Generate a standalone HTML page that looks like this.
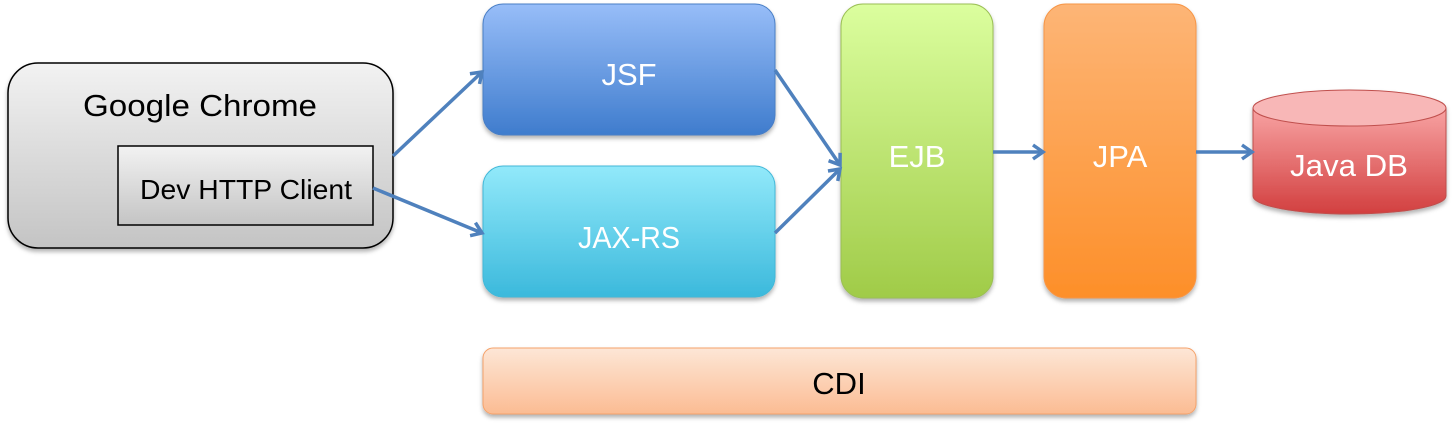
<!DOCTYPE html>
<html><head><meta charset="utf-8"><style>
html,body{margin:0;padding:0;background:#fff;}
svg{display:block;}
text{font-family:"Liberation Sans","DejaVu Sans",sans-serif;}
</style></head><body>
<svg width="1453" height="426" viewBox="0 0 1453 426" xmlns="http://www.w3.org/2000/svg">
<defs>
<linearGradient id="gGray" x1="0" y1="0" x2="0" y2="1"><stop offset="0" stop-color="#f2f2f2"/><stop offset="1" stop-color="#c4c4c4"/></linearGradient>
<linearGradient id="gBlue" x1="0" y1="0" x2="0" y2="1"><stop offset="0" stop-color="#97bdf8"/><stop offset="1" stop-color="#3f7ccd"/></linearGradient>
<linearGradient id="gCyan" x1="0" y1="0" x2="0" y2="1"><stop offset="0" stop-color="#92e9fa"/><stop offset="1" stop-color="#3bb9dc"/></linearGradient>
<linearGradient id="gGreen" x1="0" y1="0" x2="0" y2="1"><stop offset="0" stop-color="#dbfe9e"/><stop offset="1" stop-color="#a0cb48"/></linearGradient>
<linearGradient id="gOrange" x1="0" y1="0" x2="0" y2="1"><stop offset="0" stop-color="#fdb576"/><stop offset="1" stop-color="#fd8f29"/></linearGradient>
<linearGradient id="gRed" x1="0" y1="0" x2="0" y2="1"><stop offset="0" stop-color="#f8a3a3"/><stop offset="1" stop-color="#d23f3f"/></linearGradient>
<linearGradient id="gCdi" x1="0" y1="0" x2="0" y2="1"><stop offset="0" stop-color="#fde6d6"/><stop offset="1" stop-color="#fbbc93"/></linearGradient>
<filter id="sh" x="-10%" y="-10%" width="120%" height="130%"><feDropShadow dx="0" dy="3" stdDeviation="2" flood-color="#000" flood-opacity="0.3"/></filter>
<marker id="ar" markerWidth="16" markerHeight="18" refX="12" refY="9" orient="auto" markerUnits="userSpaceOnUse"><path d="M2,2 L12,9 L2,16" fill="none" stroke="#4f81bd" stroke-width="3.5"/></marker>
</defs>

<rect x="8" y="63" width="385" height="185" rx="30" fill="url(#gGray)" stroke="#000" stroke-width="1.5" filter="url(#sh)"/>
<text x="200" y="116" font-size="31" text-anchor="middle" textLength="234" lengthAdjust="spacingAndGlyphs" fill="#000">Google Chrome</text>
<rect x="118" y="146" width="255" height="79" fill="url(#gGray)" stroke="#000" stroke-width="1.5"/>
<text x="246" y="199" font-size="28" text-anchor="middle" textLength="212" lengthAdjust="spacingAndGlyphs" fill="#000">Dev HTTP Client</text>

<rect x="483" y="4" width="292" height="131" rx="20" fill="url(#gBlue)" stroke="#4a7fc6" filter="url(#sh)"/>
<text x="629" y="85" font-size="31" text-anchor="middle" fill="#fff">JSF</text>
<rect x="483" y="166" width="292" height="131" rx="20" fill="url(#gCyan)" stroke="#43b8d8" filter="url(#sh)"/>
<text x="629" y="248" font-size="31" text-anchor="middle" textLength="102" lengthAdjust="spacingAndGlyphs" fill="#fff">JAX-RS</text>

<rect x="841" y="4" width="152" height="294" rx="22" fill="url(#gGreen)" stroke="#9bbf55" filter="url(#sh)"/>
<text x="917" y="167" font-size="31" text-anchor="middle" fill="#fff">EJB</text>
<rect x="1044" y="4" width="152" height="294" rx="22" fill="url(#gOrange)" stroke="#f79646" filter="url(#sh)"/>
<text x="1120" y="167" font-size="31" text-anchor="middle" fill="#fff">JPA</text>

<g filter="url(#sh)">
<path d="M1253,108 L1253,196 A96.5,18 0 0 0 1446,196 L1446,108 Z" fill="url(#gRed)" stroke="#c0504d"/>
<ellipse cx="1349.5" cy="108" rx="96.5" ry="18" fill="#f8b7b7" stroke="#c0504d"/>
</g>
<text x="1349" y="176" font-size="31" text-anchor="middle" textLength="118" lengthAdjust="spacingAndGlyphs" fill="#fff">Java DB</text>

<rect x="483" y="348" width="713" height="66" rx="10" fill="url(#gCdi)" stroke="#f5a26a" filter="url(#sh)"/>
<text x="839" y="394" font-size="31" text-anchor="middle" fill="#000">CDI</text>

<g stroke="#4f81bd" stroke-width="3.5" fill="none" marker-end="url(#ar)">
<line x1="393" y1="156" x2="482" y2="72"/>
<line x1="373" y1="188" x2="482" y2="233"/>
<line x1="775" y1="70" x2="840" y2="165"/>
<line x1="775" y1="233" x2="840" y2="169"/>
<line x1="993" y1="152" x2="1043" y2="152"/>
<line x1="1196" y1="152" x2="1252" y2="152"/>
</g>
</svg>
</body></html>
